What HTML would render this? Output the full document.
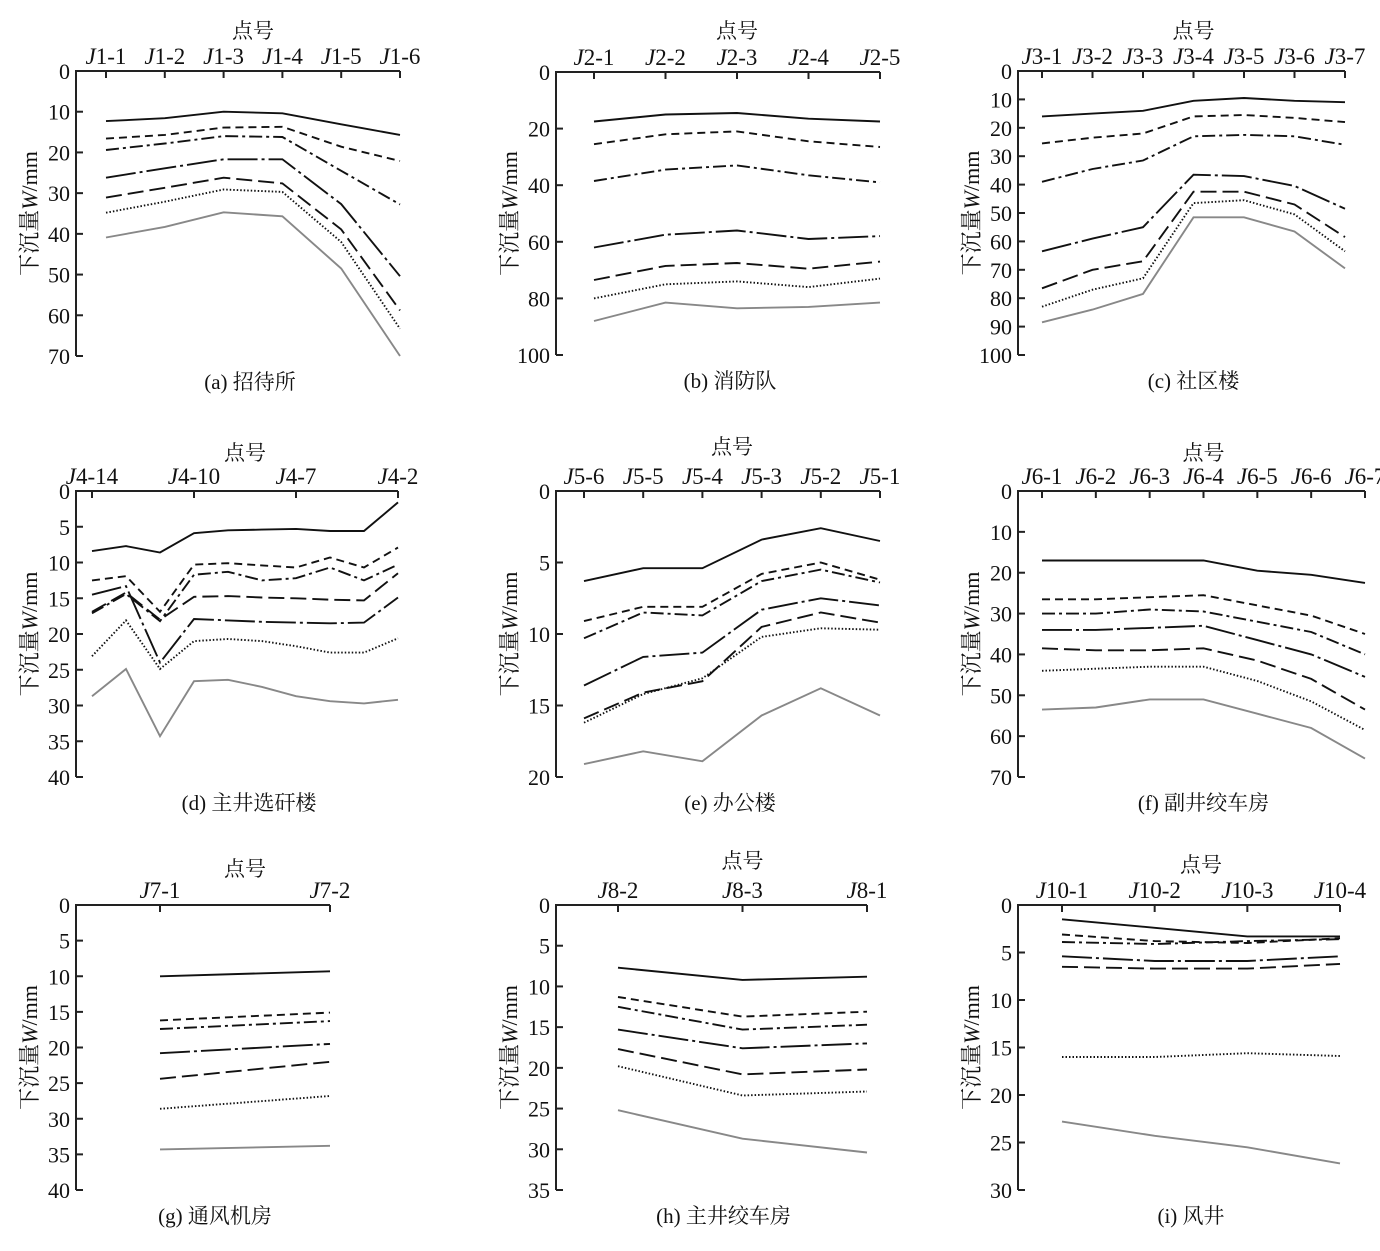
<!DOCTYPE html>
<html><head><meta charset="utf-8">
<style>
html,body{margin:0;padding:0;background:#fff;}
svg{display:block;}
text{font-family:"Liberation Serif","Noto Serif CJK SC",serif;fill:#111;}
</style></head>
<body>
<svg id="chart" width="1380" height="1251" viewBox="0 0 1380 1251" xmlns="http://www.w3.org/2000/svg"></svg>
<script>
// ---- data ----
const catsA = ["J1-1","J1-2","J1-3","J1-4","J1-5","J1-6"];
const ticksA = [0,10,20,30,40,50,60,70];
const seriesA = [
 [12.3,11.6,10.0,10.4,13.1,15.7],
 [16.6,15.7,13.9,13.7,18.6,22.1],
 [19.4,17.8,16.0,16.2,24.5,32.8],
 [26.2,23.9,21.7,21.7,32.7,50.4],
 [31.1,28.7,26.2,27.6,38.9,58.8],
 [34.8,32.1,29.1,29.7,42.0,63.3],
 [40.9,38.3,34.7,35.7,48.5,70.0]];
const catsB = ["J2-1","J2-2","J2-3","J2-4","J2-5"];
const ticksB = [0,20,40,60,80,100];
const seriesB = [
 [17.5,15,14.5,16.5,17.5],
 [25.5,22,21,24.5,26.5],
 [38.5,34.5,33,36.5,39],
 [62,57.5,56,59,58],
 [73.5,68.5,67.5,69.5,67],
 [80,75,74,76,73],
 [88,81.5,83.5,83,81.5]];
const catsC = ["J3-1","J3-2","J3-3","J3-4","J3-5","J3-6","J3-7"];
const ticksC = [0,10,20,30,40,50,60,70,80,90,100];
const seriesC = [
 [16,15,14,10.5,9.5,10.5,11],
 [25.5,23.5,22,16,15.5,16.5,18],
 [39,34.5,31.5,23,22.5,23,26],
 [63.5,59,55,36.5,37,40.5,48.5],
 [76.5,70,67,42.5,42.5,47,58.5],
 [83,77,73,46.5,45.5,50.5,63.5],
 [88.5,84,78.5,51.5,51.5,56.5,69.5]];
const catsD = ["J4-14","","","J4-10","","","J4-7","","","J4-2"];
const ticksD = [0,5,10,15,20,25,30,35,40];
const seriesD = [
 [8.4,7.7,8.6,5.9,5.5,5.4,5.3,5.6,5.6,1.6],
 [12.5,11.9,16.9,10.3,10.1,10.4,10.7,9.3,10.7,7.9],
 [17.1,14.4,18.2,11.7,11.3,12.5,12.2,10.7,12.5,10.3],
 [14.5,13.3,24.0,17.9,18.1,18.3,18.4,18.5,18.4,14.9],
 [16.9,14.2,18.0,14.8,14.7,14.9,15.0,15.2,15.3,11.5],
 [23.1,18.1,24.9,21.0,20.7,21.0,21.7,22.6,22.6,20.6],
 [28.7,24.9,34.3,26.6,26.4,27.4,28.7,29.4,29.7,29.2]];
const catsE = ["J5-6","J5-5","J5-4","J5-3","J5-2","J5-1"];
const ticksE = [0,5,10,15,20];
const seriesE = [
 [6.3,5.4,5.4,3.4,2.6,3.5],
 [9.1,8.1,8.1,5.8,5.0,6.2],
 [10.3,8.5,8.7,6.3,5.5,6.4],
 [13.6,11.6,11.3,8.3,7.5,8.0],
 [15.9,14.1,13.3,9.5,8.5,9.2],
 [16.2,14.2,13.1,10.2,9.6,9.7],
 [19.1,18.2,18.9,15.7,13.8,15.7]];
const catsF = ["J6-1","J6-2","J6-3","J6-4","J6-5","J6-6","J6-7"];
const ticksF = [0,10,20,30,40,50,60,70];
const seriesF = [
 [17,17,17,17,19.5,20.5,22.5],
 [26.5,26.5,26,25.5,28,30.5,35],
 [30,30,29,29.5,32,34.5,40],
 [34,34,33.5,33,36.5,40,45.5],
 [38.5,39,39,38.5,41.5,46,53.5],
 [44,43.5,43,43,46.5,51.5,58.5],
 [53.5,53,51,51,54.5,58,65.5]];
const catsG = ["J7-1","J7-2"];
const ticksG = [0,5,10,15,20,25,30,35,40];
const seriesG = [[10,9.3],[16.2,15.1],[17.4,16.3],[20.8,19.5],[24.4,22],[28.6,26.8],[34.3,33.8]];
const catsH = ["J8-2","J8-3","J8-1"];
const ticksH = [0,5,10,15,20,25,30,35];
const seriesH = [[7.7,9.2,8.8],[11.3,13.7,13.1],[12.5,15.3,14.7],[15.3,17.6,17.0],[17.7,20.8,20.2],[19.8,23.4,22.9],[25.2,28.7,30.4]];
const catsI = ["J10-1","J10-2","J10-3","J10-4"];
const ticksI = [0,5,10,15,20,25,30];
const seriesI = [[1.5,2.4,3.3,3.3],[3.1,3.8,4.0,3.5],[3.9,4.1,3.8,3.6],[5.4,5.9,5.9,5.4],[6.5,6.7,6.7,6.2],[16.0,16.0,15.6,15.9],[22.8,24.3,25.5,27.2]];

const styles = [
 {c:"#111",d:""},{c:"#111",d:"8 5"},{c:"#111",d:"13 4 3 4"},
 {c:"#111",d:"30 4 3 4"},{c:"#111",d:"16 6"},{c:"#111",d:"1.5 2"},{c:"#888",d:""}];

const panels = [
 {id:"a",cap:"(a)  招待所",cats:catsA,ticks:ticksA,s:seriesA,ax:76,x0:106,x1:400,top:71,bot:356,tY:30},
 {id:"b",cap:"(b)  消防队",cats:catsB,ticks:ticksB,s:seriesB,ax:556,x0:594,x1:880,top:72,bot:355,tY:30},
 {id:"c",cap:"(c)  社区楼",cats:catsC,ticks:ticksC,s:seriesC,ax:1018,x0:1042,x1:1345,top:71,bot:355,tY:30},
 {id:"d",cap:"(d)  主井选矸楼",cats:catsD,ticks:ticksD,s:seriesD,ax:76,x0:92,x1:398,top:491,bot:777,tY:452},
 {id:"e",cap:"(e)  办公楼",cats:catsE,ticks:ticksE,s:seriesE,ax:556,x0:584,x1:880,top:491,bot:777,tY:446},
 {id:"f",cap:"(f)  副井绞车房",cats:catsF,ticks:ticksF,s:seriesF,ax:1018,x0:1042,x1:1365,top:491,bot:777,tY:452},
 {id:"g",cap:"(g)  通风机房",cats:catsG,ticks:ticksG,s:seriesG,ax:76,x0:160,x1:330,top:905,bot:1190,tY:868},
 {id:"h",cap:"(h)  主井绞车房",cats:catsH,ticks:ticksH,s:seriesH,ax:556,x0:618,x1:867,top:905,bot:1190,tY:860},
 {id:"i",cap:"(i)  风井",cats:catsI,ticks:ticksI,s:seriesI,ax:1018,x0:1062,x1:1340,top:905,bot:1190,tY:864}];

const NS="http://www.w3.org/2000/svg";
const svg=document.getElementById("chart");
function mk(tag,attrs,parent){const e=document.createElementNS(NS,tag);for(const k in attrs)e.setAttribute(k,attrs[k]);parent.appendChild(e);return e;}

panels.forEach(p=>{
 const g=mk("g",{},svg);
 
 
 const n=p.cats.length;
 const ymax=p.ticks[p.ticks.length-1];
 const xs=i=>p.x0+(p.x1-p.x0)*i/(n-1);
 const ys=v=>p.top+(p.bot-p.top)*v/ymax;
 const ax=mk("path",{d:`M${p.x1},${p.top} L${p.ax},${p.top} L${p.ax},${p.bot}`,fill:"none",stroke:"#222","stroke-width":2},g);
 
 
 p.ticks.forEach(t=>{
  const y=ys(t);
  if(t>0) mk("line",{x1:p.ax,y1:y,x2:p.ax+7,y2:y,stroke:"#222","stroke-width":2},g);
  const tx=mk("text",{x:p.ax-6,y:y+8,"text-anchor":"end","font-size":22},g);
  tx.textContent=t;
  
  
 });
 p.cats.forEach((c,i)=>{
  if(!c) return;
  const x=xs(i);
  mk("line",{x1:x,y1:p.top,x2:x,y2:p.top+7,stroke:"#222","stroke-width":2},g);
  const m=c.match(/^J(.*)$/);
  const tx=mk("text",{x:x,y:p.top-7,"text-anchor":"middle","font-size":23},g);
  const ti=mk("tspan",{"font-style":"italic"},tx);ti.textContent="J";
  const tr=mk("tspan",{},tx);tr.textContent=m[1];
  
  
 });
 const tt=mk("text",{x:(p.x0+p.x1)/2,y:p.tY+8,"text-anchor":"middle","font-size":21},g);
 tt.textContent="点号";
 
 
 const cap=mk("text",{x:(p.ax+p.x1)/2+12,y:p.bot+33,"text-anchor":"middle","font-size":21},g);
 cap.textContent=p.cap;
 
 
 const yc=(p.top+p.bot)/2;
 const yt=mk("text",{x:0,y:0,"text-anchor":"middle","font-size":22,transform:`translate(${p.ax-39},${yc}) rotate(-90)`},g);
 const y1=mk("tspan",{},yt);y1.textContent="下沉量";
 const y2=mk("tspan",{"font-style":"italic"},yt);y2.textContent="W";
 const y3=mk("tspan",{},yt);y3.textContent="/mm";
 
 
 p.s.forEach((vals,si)=>{
  const d=vals.map((v,i)=>(i?"L":"M")+xs(i).toFixed(1)+","+ys(v).toFixed(1)).join(" ");
  const st=styles[si];
  const a={d:d,fill:"none",stroke:st.c,"stroke-width":1.9};
  if(st.d)a["stroke-dasharray"]=st.d;
  const l=mk("path",a,g);
  
  
 });
});
</script>
</body></html>
